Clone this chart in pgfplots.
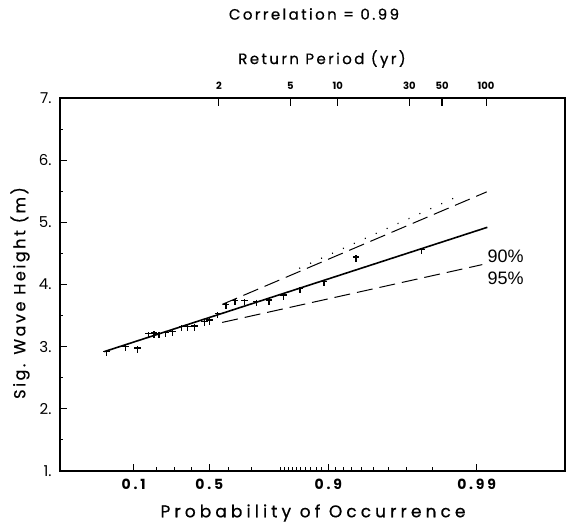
\documentclass[border=0pt]{standalone}
\usepackage{fontspec}
\setmainfont{Poppins}
\newfontfamily\lblfont[LetterSpace=16, FakeBold=0.6]{Poppins}
\newfontfamily\xlblfont[LetterSpace=24, FakeBold=0.6]{Poppins}
\newfontfamily\ylblfont[LetterSpace=16, FakeBold=0.6]{Poppins}
\newfontfamily\tickfont[LetterSpace=20]{Poppins}
\newfontfamily\pctfont{Liberation Sans}
\usepackage{pgfplots}
\pgfplotsset{compat=1.18}

% plus sign with a longer lower arm, as in the scanned figure
\pgfdeclareplotmark{tee}{%
  \pgfpathmoveto{\pgfqpoint{-\pgfplotmarksize}{0pt}}%
  \pgfpathlineto{\pgfqpoint{\pgfplotmarksize}{0pt}}%
  \pgfpathmoveto{\pgfqpoint{0pt}{0.5\pgfplotmarksize}}%
  \pgfpathlineto{\pgfqpoint{0pt}{-1.4\pgfplotmarksize}}%
  \pgfusepathqstroke}

\begin{document}
\begin{tikzpicture}[x=1pt,y=1pt]

% x is the Gumbel reduced variate -ln(-ln P)
\begin{axis}[
    scale only axis, width=505pt, height=373pt,
    xmin=-2, xmax=6, ymin=1, ymax=7,
    tick align=inside, xtick pos=bottom, ytick pos=left,
    xtick={-0.8340,0.3665,2.2504,4.6001},
    xticklabels={0.1,0.5,0.9,0.99},
    minor xtick={-0.4759,-0.1856,0.0874,0.6717,1.0309,1.4999,1.5573,1.6172,1.6802,1.7467,1.8170,1.8917,1.9714,2.0570,2.1495,2.3612,2.4843,2.6232,2.7826,2.9702,3.1985,3.4913,3.9019},
    ytick={1,...,7},
    yticklabels={1.,2.,3.,4.,5.,6.,7.},
    minor ytick={1.5,2.5,...,6.5},
    major tick length=7pt, minor tick length=3.5pt,
    every tick/.style={black, line width=1pt},
    axis line style={line width=1.3pt},
    xticklabel style={font=\tickfont\fontsize{14}{14}\selectfont\bfseries, yshift=-5pt},
    yticklabel style={font=\fontsize{15}{15}\selectfont, xshift=-5pt},
    clip=false,
  ]
  \coordinate (O) at (rel axis cs:0,0);
  \draw[line width=2.4pt] (rel axis cs:0,0) -- (rel axis cs:0,1);
  \draw[line width=2pt] (rel axis cs:1,0) -- (rel axis cs:1,1);
  \addplot[line width=1.6pt] coordinates {(-1.30,2.92) (4.77,4.92)};
  \addplot[line width=1pt, dash pattern=on 16pt off 7pt] coordinates {(0.57,3.68) (4.76,5.49)};
  \addplot[line width=1pt, dash pattern=on 16pt off 7pt] coordinates {(0.57,3.39) (4.69,4.32)};
  \addplot[line width=1.2pt, dash pattern=on 1pt off 11pt] coordinates {(1.79,4.26) (4.37,5.45)};
  \addplot[only marks, mark=tee, mark size=3.3pt, line width=1.3pt] coordinates {
    (-1.26,2.92) (-0.96,3.00) (-0.77,2.98) (-0.60,3.21) (-0.51,3.22) (-0.43,3.21)
    (-0.33,3.23) (-0.22,3.24) (-0.07,3.32) (0.02,3.32) (0.13,3.33) (0.29,3.40)
    (0.37,3.43) (0.50,3.53) (0.63,3.68) (0.77,3.74) (0.92,3.74) (1.11,3.73)
    (1.31,3.75) (1.54,3.83) (1.80,3.94) (2.18,4.05) (2.69,4.44) (3.73,4.56)};
  \node[font=\pctfont\fontsize{18}{18}\selectfont, anchor=west] at (axis cs:4.72,4.45) {90\%};
  \node[font=\pctfont\fontsize{18}{18}\selectfont, anchor=west] at (axis cs:4.72,4.10) {95\%};
\end{axis}

% return period axis on top
\begin{axis}[
    scale only axis, width=505pt, height=373pt,
    xmin=-2, xmax=6, ymin=1, ymax=7,
    axis x line*=top, hide y axis,
    tick align=inside,
    xtick={0.517,1.650,2.400,3.534,4.052,4.750},
    xticklabels={2,5,10,30,50,100},
    major tick length=8pt,
    every tick/.style={black, line width=1.1pt},
    axis line style={line width=0.8pt},
    xticklabel style={font=\fontsize{10}{10}\selectfont\bfseries, yshift=5pt},
  ]
\end{axis}

\node[font=\lblfont\fontsize{15}{15}\selectfont] at ([shift={(254,457)}]O) {Correlation = 0.99};
\node[font=\lblfont\fontsize{15}{15}\selectfont] at ([shift={(262,412)}]O) {Return Period (yr)};
\node[font=\xlblfont\fontsize{17}{17}\selectfont] at ([shift={(253,-42)}]O) {Probability of Occurrence};
\node[font=\ylblfont\fontsize{16}{16}\selectfont, rotate=90] at ([shift={(-40,178)}]O) {Sig. Wave Height (m)};

\pgfresetboundingbox
\path (O) ++(-60,-56) rectangle ++(568,527);
\end{tikzpicture}
\end{document}
